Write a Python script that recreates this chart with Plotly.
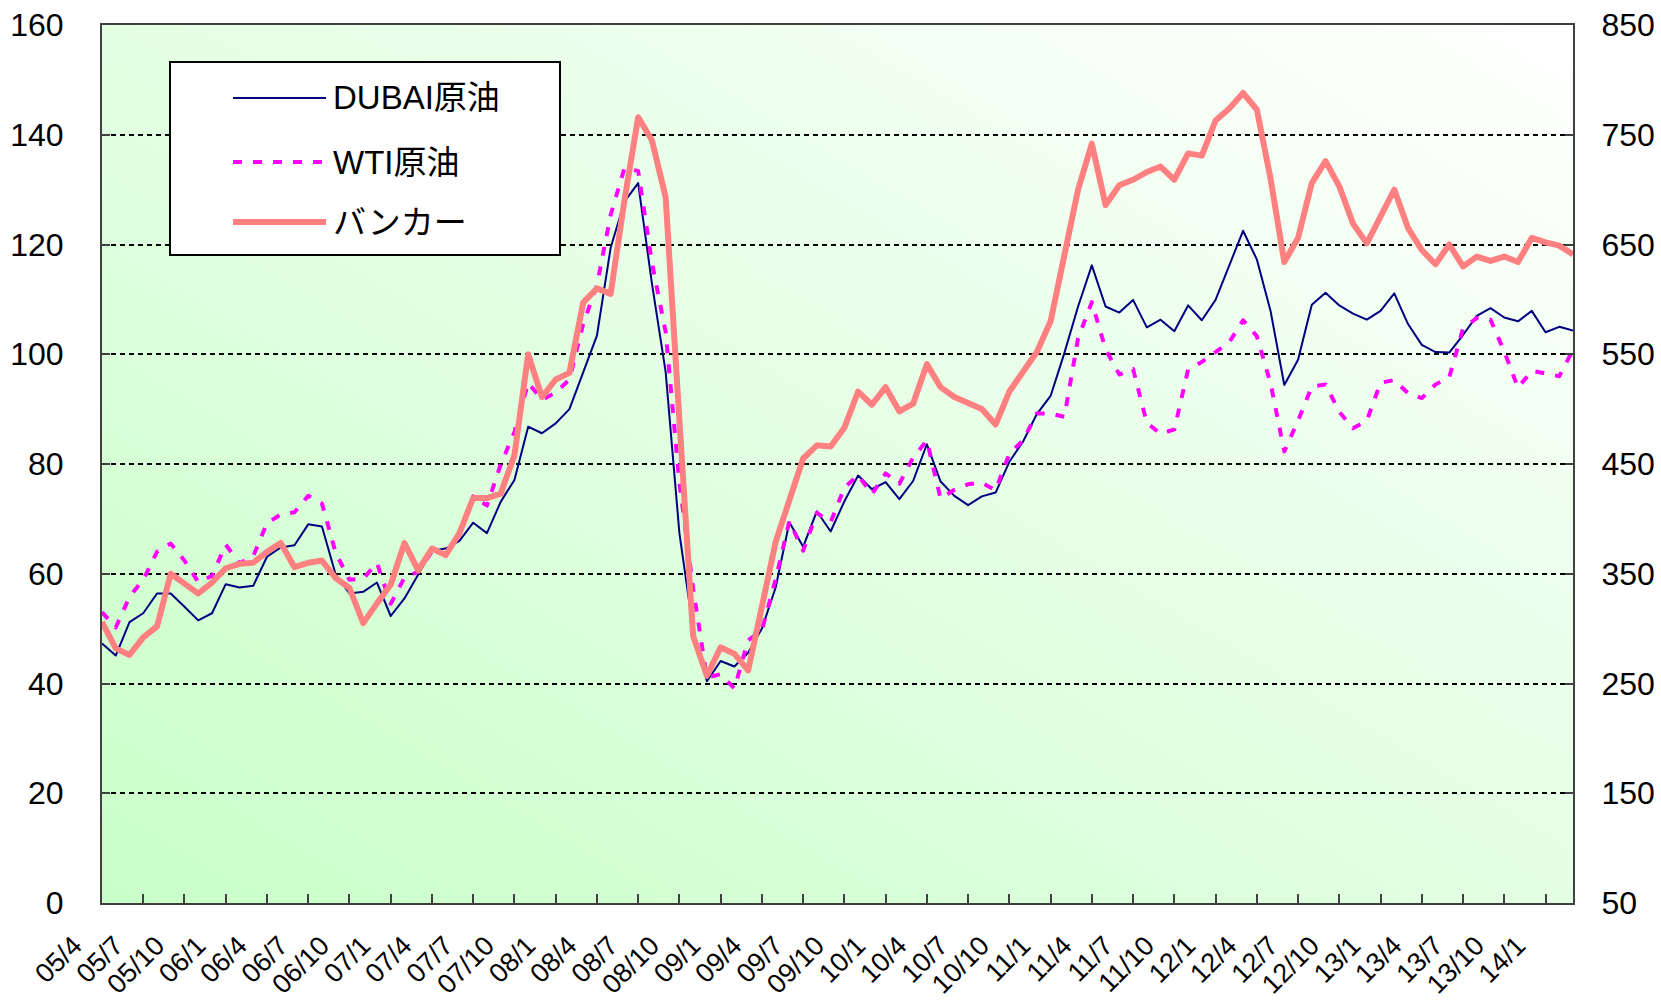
import base64
import plotly.graph_objects as go

# monthly points, 2005/4 .. 2014/3
months = []
for y in range(2005, 2015):
    for m in range(1, 13):
        if (y == 2005 and m < 4) or (y == 2014 and m > 3):
            continue
        months.append(f"{y % 100:02d}/{m}")

tick_labels = months[::3]

# DUBAI crude, USD/bbl (left axis)
dubai = [
    47.3, 45.1, 51.2, 52.8, 56.4, 56.4, 54.0, 51.5, 52.8,
    58.1, 57.5, 57.8, 63.1, 64.8, 65.2, 69.0, 68.6, 59.8, 56.4, 56.7, 58.4,
    52.3, 55.5, 59.9, 64.2, 64.6, 66.0, 69.3, 67.4, 73.1, 77.1, 86.8, 85.6,
    87.4, 90.0, 96.7, 103.4, 119.4, 127.8, 131.2, 112.9, 96.8, 67.4, 49.8, 40.4,
    44.1, 43.1, 45.6, 50.0, 57.5, 69.4, 64.9, 71.4, 67.7, 73.2, 77.9, 75.4,
    76.7, 73.6, 76.9, 83.6, 76.8, 74.2, 72.5, 74.1, 74.8, 80.4, 84.1, 89.1,
    92.4, 100.2, 108.7, 116.2, 108.7, 107.6, 109.9, 104.9, 106.3, 104.2, 108.9, 106.2,
    109.9, 116.2, 122.5, 117.3, 107.9, 94.4, 99.0, 109.0, 111.2, 108.9, 107.4, 106.3,
    107.9, 111.1, 105.5, 101.7, 100.4, 100.3, 103.5, 107.0, 108.4, 106.7, 106.0, 107.9,
    104.0, 105.0, 104.3,
]

# WTI crude, USD/bbl (left axis)
wti = [
    53.0, 50.2, 55.8, 58.9, 64.0, 65.5, 62.4, 58.5, 59.6,
    65.3, 61.9, 63.2, 69.2, 70.8, 71.2, 74.2, 72.8, 63.8, 58.9, 59.1, 62.0,
    54.5, 59.3, 60.4, 64.0, 63.5, 67.5, 74.1, 72.4, 79.9, 85.8, 94.8, 91.7,
    93.0, 95.4, 105.5, 112.6, 125.4, 133.9, 133.4, 116.7, 104.1, 76.6, 57.3, 41.1,
    41.7, 39.1, 47.9, 49.7, 59.0, 69.6, 64.2, 71.1, 69.4, 75.7, 78.0, 74.5,
    78.3, 76.4, 81.2, 84.3, 73.7, 75.3, 76.3, 76.6, 75.2, 81.9, 84.3, 89.2,
    89.2, 88.6, 102.9, 109.5, 100.9, 96.3, 97.3, 87.5, 85.5, 86.3, 97.2, 98.6,
    100.3, 102.2, 106.2, 103.3, 94.7, 82.3, 87.9, 94.1, 94.5, 89.5, 86.5, 87.9,
    94.8, 95.3, 92.9, 92.0, 94.5, 95.8, 104.7, 106.6, 106.3, 100.5, 93.9, 97.0,
    96.5, 96.0, 100.8,
]

# bunker, USD/t (right axis)
bunker = [
    306, 282, 276, 292, 302, 350, 341, 332, 342,
    355, 359, 360, 370, 378, 356, 360, 362, 346, 337, 305, 323,
    340, 378, 353, 373, 367, 387, 419, 419, 423, 458, 550, 511,
    527, 533, 597, 610, 605, 690, 766, 745, 693, 490, 293, 257,
    283, 277, 262, 320, 379, 417, 455, 467, 466, 483, 516, 504,
    520, 498, 505, 541, 520, 511, 506, 500, 486, 516, 534, 552,
    580, 642, 700, 742, 686, 704, 709, 716, 721, 709, 733, 731,
    763, 774, 788, 773, 710, 634, 656, 706, 726, 703, 669, 651,
    675, 700, 665, 645, 632, 650, 630, 639, 635, 639, 634, 656,
    652, 649, 641,
]

names = ["DUBAI原油", "WTI原油", "バンカー"]
colors = ["#000080", "#ff00ff", "#ff8080"]

W, H = 1661, 1003
L, R, T, B = 102, 88, 25, 100
FONT = "Liberation Sans, Arial, Noto Sans CJK JP, sans-serif"


def px(x):
    return (x - L) / (W - L - R)


def py(y):
    return (H - B - y) / (H - T - B)


fig = go.Figure()
fig.add_trace(go.Scatter(x=months, y=dubai, mode="lines", name=names[0],
                         line=dict(color=colors[0], width=2)))
fig.add_trace(go.Scatter(x=months, y=wti, mode="lines", name=names[1],
                         line=dict(color=colors[1], width=4, dash="9px,11px")))
fig.add_trace(go.Scatter(x=months, y=bunker, mode="lines", name=names[2], yaxis="y2",
                         line=dict(color=colors[2], width=6)))

# green gradient plot background
svg = ('<svg xmlns="http://www.w3.org/2000/svg" width="400" height="240" preserveAspectRatio="none">'
       '<defs><linearGradient id="g" x1="0" y1="1" x2="1" y2="0">'
       '<stop offset="0" stop-color="#c8ffc8"/><stop offset="1" stop-color="#ffffff"/>'
       '</linearGradient></defs><rect width="400" height="240" fill="url(#g)"/></svg>')
bg = "data:image/svg+xml;base64," + base64.b64encode(svg.encode()).decode()

# hand drawn legend box (long line samples like the original)
shapes = [dict(type="rect", xref="paper", yref="paper",
               x0=px(170), x1=px(560), y0=py(255), y1=py(62),
               line=dict(color="black", width=2), fillcolor="white", layer="above")]
annotations = []
rows = [98, 162, 222]
widths = [2, 4, 6]
dashes = ["solid", "9px,11px", "solid"]
for name, c, w, d, ry in zip(names, colors, widths, dashes, rows):
    shapes.append(dict(type="line", xref="paper", yref="paper",
                       x0=px(233), x1=px(326), y0=py(ry), y1=py(ry),
                       line=dict(color=c, width=w, dash=d), layer="above"))
    annotations.append(dict(xref="paper", yref="paper", x=px(331), y=py(ry),
                            xanchor="left", yanchor="middle", text=name, showarrow=False,
                            font=dict(size=33, color="black", family=FONT)))

fig.update_layout(
    width=W, height=H,
    margin=dict(l=L, r=R, t=T, b=B, autoexpand=False),
    paper_bgcolor="white",
    plot_bgcolor="rgba(0,0,0,0)",
    showlegend=False,
    font=dict(family=FONT, color="black"),
    images=[dict(source=bg, xref="paper", yref="paper", x=0, y=1, sizex=1, sizey=1,
                 sizing="stretch", layer="below")],
    shapes=shapes,
    annotations=annotations,
    xaxis=dict(type="category", range=[0, len(months) - 1], automargin=False,
               tickvals=tick_labels, ticktext=tick_labels, tickangle=-45,
               ticks="inside", ticklen=9, tickwidth=1.5, tickcolor="#404040",
               showline=True, linecolor="#404040", linewidth=2, mirror=True,
               showgrid=False, tickfont=dict(size=27),
               ticklabelstandoff=14, ticklabelshift=-28),
    yaxis=dict(range=[0, 160], dtick=20, ticks="inside", ticklen=8, tickwidth=1.5,
               tickcolor="#404040", showline=True, linecolor="#404040", linewidth=2,
               showgrid=True, gridcolor="black", gridwidth=1.7, griddash="5px,4px",
               zeroline=False, tickfont=dict(size=32), ticklabelstandoff=30,
               automargin=False),
    yaxis2=dict(range=[50, 850], tick0=50, dtick=100, overlaying="y", side="right",
                ticks="inside", ticklen=8, tickwidth=1.5, tickcolor="#404040",
                showline=True, linecolor="#404040", linewidth=2, showgrid=False,
                zeroline=False, tickfont=dict(size=32), ticklabelstandoff=20,
                automargin=False),
)

page_fix = ("document.body.style.margin='0';"
            "document.querySelectorAll('.scatterlayer path.js-line')"
            ".forEach(function(p){p.style.strokeLinejoin='round';});")
fig.write_html("out.html", post_script=page_fix, config={"displayModeBar": False})
